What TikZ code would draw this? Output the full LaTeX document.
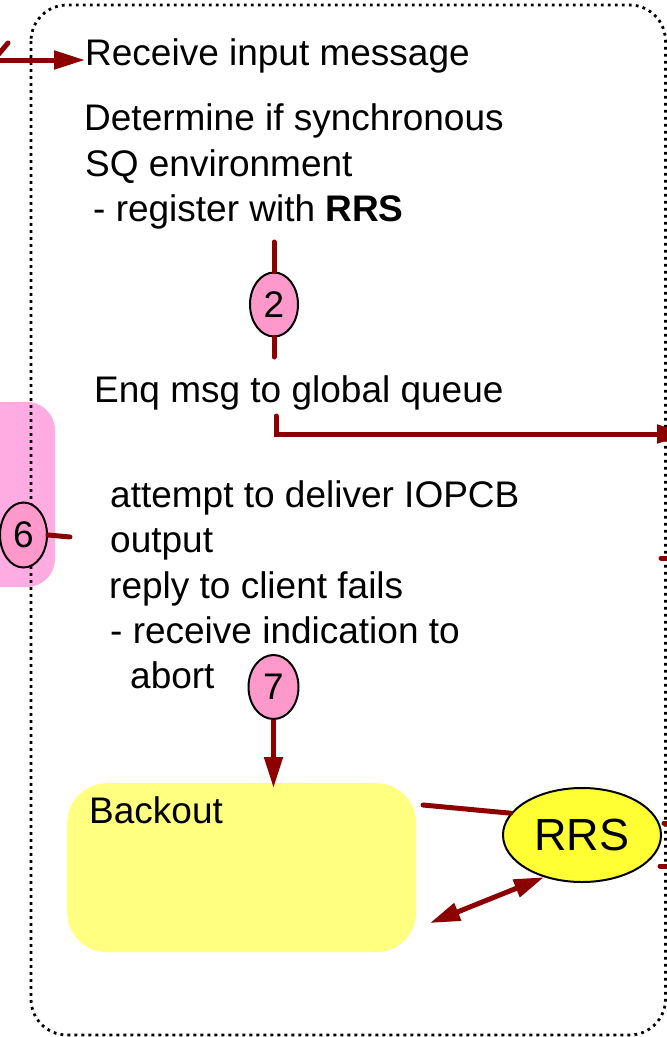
\documentclass[tikz,border=0pt]{standalone}
\usepackage{fontspec}
\setmainfont{Liberation Sans}
\usetikzlibrary{arrows.meta,shapes.geometric}
\definecolor{dred}{RGB}{140,0,0}
\definecolor{pinkc}{RGB}{255,153,204}
\definecolor{pinkbg}{RGB}{255,172,226}
\definecolor{ylwbox}{RGB}{255,255,128}
\definecolor{ylwrrs}{RGB}{255,255,51}
\begin{document}
\begin{tikzpicture}[x=1pt,y=-1pt,
  txt/.style={anchor=base west, inner sep=0pt, font=\fontsize{37}{44}\selectfont},
  conn/.style={draw=dred, line width=5pt, line cap=round},
  tipend/.style={-{Triangle[length=31pt,width=18pt]}},
  numnode/.style={ellipse, draw=black, line width=2pt, fill=pinkc, minimum width=48pt, minimum height=64pt, inner sep=0pt, font=\fontsize{37}{44}\selectfont},
  border/.style={draw=black, line width=2.8pt, dash pattern=on 2.8pt off 4.2pt, rounded corners=36pt}]
\clip (0,0) rectangle (667,1037);
% pink background block at left
\fill[pinkbg, rounded corners=28pt] (-60,402) rectangle (55,587);
% dotted container
\draw[border] (31,5) rectangle (665.5,1035);
% yellow backout box
\node[fill=ylwbox, rounded corners=40pt, minimum width=349pt, minimum height=169pt, anchor=north west, inner sep=0pt] (backout) at (67,783) {};
\node[txt] (backouttxt) at (89,823) {Backout};
% texts
\node[txt] (t1) at (85,65) {Receive input message};
\node[txt] (t2) at (84,130) {Determine if synchronous};
\node[txt] (t3) at (85,176) {SQ environment};
\node[txt] (t4) at (93,221) {- register with \textbf{RRS}};
\node[txt] (t5) at (94,402) {Enq msg to global queue};
\node[txt] (t6) at (110,507) {attempt to deliver IOPCB};
\node[txt] (t7) at (110,552) {output};
\node[txt] (t8) at (109,598) {reply to client fails};
\node[txt] (t9) at (110,643) {- receive indication to};
\node[txt] (t10) at (130,688) {abort};
% numbered markers
\node[numnode] (n2) at (274,304.5) {2};
\node[numnode, minimum width=47pt, minimum height=65pt] (n6) at (23.5,535) {6};
\node[numnode, minimum width=50pt, minimum height=64pt] (n7) at (273.5,687) {7};
\node[ellipse, draw=black, line width=2pt, fill=ylwrrs, minimum width=158pt, minimum height=94pt, inner sep=0pt, font=\fontsize{45}{50}\selectfont] (rrs) at (582,835) {RRS};
% coordinates
\coordinate (inL) at (-5,60);
\coordinate (inR) at (85,60);
\coordinate (diagA) at (8,43);
\coordinate (diagB) at (-8,62);
\coordinate (n2top) at (274,242);
\coordinate (n2bot) at (274,357);
\coordinate (enqA) at (276,416);
\coordinate (enqB) at (276,434);
\coordinate (enqC) at (688,434);
\coordinate (n6end) at (70,537);
\coordinate (n7end) at (273.5,788);
\coordinate (bkR) at (423,805);
\coordinate (bkL) at (430,923);
\coordinate (r1a) at (661,558);
\coordinate (r1b) at (700,558);
\coordinate (r2a) at (664,823);
\coordinate (r2b) at (700,823);
\coordinate (r3a) at (660,866);
\coordinate (r3b) at (700,866);
% connectors
\draw[conn, tipend, line cap=butt] (inL) -- (inR);
\draw[conn] (diagA) -- (diagB);
\draw[conn] (n2.north) -- (n2top);
\draw[conn] (n2.south) -- (n2bot);
\draw[conn, tipend] (enqA) -- (enqB) -- (enqC);
\draw[conn] (n6.east) -- (n6end);
\draw[conn, tipend, line cap=butt] (n7.south) -- (n7end);
\draw[conn] (bkR) -- (rrs.163);
\draw[conn, line cap=butt, {Triangle[length=30pt,width=18pt]}-{Triangle[length=30pt,width=18pt]}] (bkL) -- (rrs.228);
\draw[conn] (r1a) -- (r1b);
\draw[conn] (r2a) -- (r2b);
\draw[conn] (r3a) -- (r3b);
\end{tikzpicture}
\end{document}
